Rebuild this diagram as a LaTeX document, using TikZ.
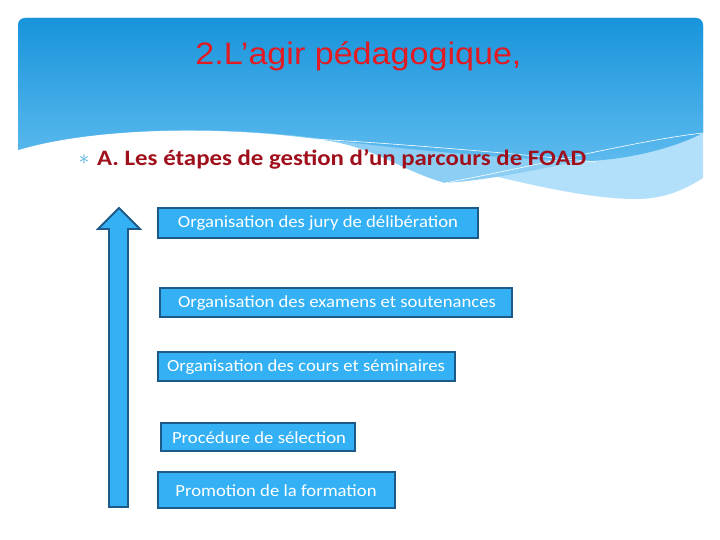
\documentclass[tikz,border=0pt]{standalone}
\usepackage{fontspec}
\setmainfont{Carlito}
\newfontfamily\arialf[FakeStretch=1.1]{Liberation Sans}
\newfontfamily\boxfont[FakeStretch=1.1]{Carlito}
\newfontfamily\subfont[FakeStretch=1.13]{Carlito}
\begin{document}
\begin{tikzpicture}[x=1pt,y=-1pt]
\definecolor{pantop}{RGB}{20,146,218}
\definecolor{panbot}{RGB}{92,186,238}
\definecolor{bandA}{RGB}{140,206,244}
\definecolor{bandB}{RGB}{178,224,250}
\definecolor{titlered}{RGB}{226,26,34}
\definecolor{subred}{RGB}{160,16,28}
\definecolor{boxfill}{RGB}{52,177,245}
\definecolor{boxline}{RGB}{30,90,136}
\definecolor{bulletblue}{RGB}{70,170,220}
\tikzset{
  stepbox/.style={draw=boxline,line width=1.8pt,fill=boxfill,
    anchor=north west,inner sep=0pt,minimum height=#1},
  stepbox/.default=30pt,
  steptext/.style={text=white,font=\boxfont\fontsize{17}{20}\selectfont,inner sep=0pt}
}
\useasboundingbox (0,0) rectangle (720,540);
\fill[white] (0,0) rectangle (720,540);
% header panel
\begin{scope}
\clip[rounded corners=7] (18,18) rectangle (703,260);
\fill[bandB] (10,10) -- (710,10) -- (710,175) -- (703,178)
  .. controls (690,186) and (670,198) .. (640,199)
  .. controls (560,200) and (450,160) .. (330,141)
  .. controls (220,124) and (90,128) .. (18,150) -- (10,152) -- cycle;
\fill[bandA] (10,10) -- (710,10) -- (710,131) -- (703,133)
  .. controls (620,150) and (520,178) .. (445,183)
  .. controls (400,170) and (380,150) .. (330,141)
  .. controls (220,124) and (90,128) .. (18,150) -- (10,152) -- cycle;
\shade[top color=pantop,bottom color=panbot] (10,10) -- (710,10) -- (710,131) -- (703,133)
  .. controls (680,145) and (640,158) .. (590,161)
  .. controls (520,160) and (430,152) .. (330,140)
  .. controls (220,124) and (90,128) .. (18,150) -- (10,152) -- cycle;
\draw[white,line width=0.6pt] (240,136) .. controls (330,138) and (480,150) .. (596,162);
\draw[white,line width=0.6pt] (445,183) .. controls (540,165) and (640,140) .. (703,133);
\end{scope}
% title
\node[anchor=base,text=titlered,inner sep=0pt,font=\arialf\fontsize{31}{36}\selectfont] (title) at (358.5,65) {2.L’agir pédagogique,};
% bullet + subtitle
\node[text=bulletblue,inner sep=0pt,font=\fontsize{20}{22}\selectfont] (bul) at (84,159.5) {$\ast$};
\node[anchor=base west,text=subred,inner sep=0pt,font=\subfont\bfseries\fontsize{22}{26}\selectfont] (sub) at (97,166) {A. Les étapes de gestion d’un parcours de FOAD};
% arrow
\draw[draw=boxline,line width=1.8pt,fill=boxfill,line join=miter]
  (109,507) -- (109,229) -- (98,229) -- (119,208) -- (140,229) -- (128,229) -- (128,507) -- cycle;
% boxes
\node[stepbox,minimum width=320pt] (b1) at (157,207) {};
\node[steptext] (t1) at (318,223.5) {Organisation des jury de délibération};
\node[stepbox=29pt,minimum width=352pt] (b2) at (159,287) {};
\node[steptext] (t2) at (337,303) {Organisation des examens et soutenances};
\node[stepbox=29pt,minimum width=297pt] (b3) at (157,351) {};
\node[steptext] (t3) at (306,367) {Organisation des cours et séminaires};
\node[stepbox=28pt,minimum width=194pt] (b4) at (160,422) {};
\node[steptext] (t4) at (259,437.5) {Procédure de sélection};
\node[stepbox=36pt,minimum width=237pt] (b5) at (157,471) {};
\node[steptext] (t5) at (276,490.5) {Promotion de la formation};
\end{tikzpicture}
\end{document}
